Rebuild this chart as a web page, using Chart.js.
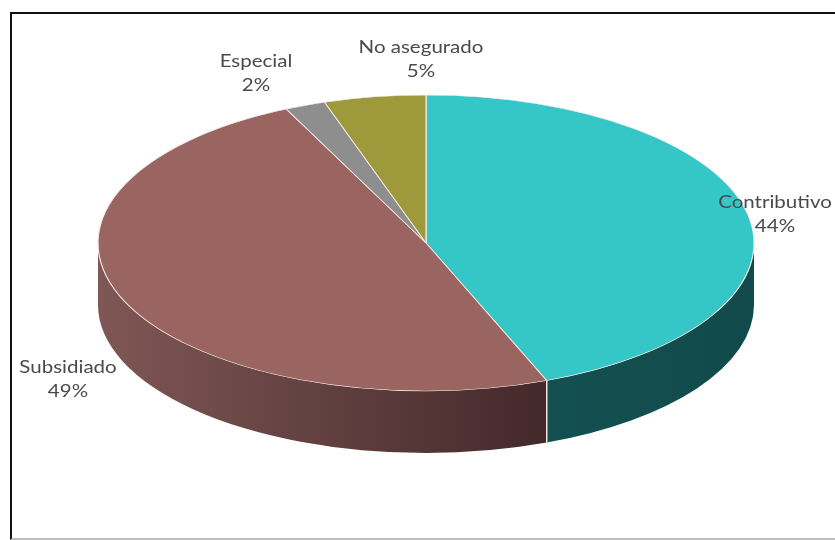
<!DOCTYPE html>
<html>
<head>
<meta charset="utf-8">
<script src="https://cdn.jsdelivr.net/npm/chart.js@4.4.1/dist/chart.umd.min.js"></script>
<style>
  html, body { margin: 0; padding: 0; background: #fff; }
  #wrap { position: relative; width: 835px; height: 540px; overflow: hidden; }
  #frame {
    position: absolute; left: 10px; top: 12px; width: 840px; height: 528px;
    border-left: 2px solid #111; border-top: 2px solid #111; border-bottom: 2px solid #bdbdbd;
    box-sizing: border-box;
  }
  canvas { position: absolute; left: 0; top: 0; }
</style>
</head>
<body>
<div id="wrap">
  <div id="frame"></div>
  <canvas id="pie" width="835" height="540"></canvas>
</div>
<script>
const labels = ['Contributivo', 'Subsidiado', 'Especial', 'No asegurado'];
const values = [44, 49, 2, 5];
const pctLabels = ['44%', '49%', '2%', '5%'];
const topColors = ['#35c7c8', '#9a6461', '#8e8e8e', '#9e9a3c'];
const sideLeft = ['#145051', '#7f5755', '#5c5c5c', '#6a6727'];
const sideRight = ['#124a4b', '#44292a', '#3f3f3f', '#4b4a1c'];

const $ = (id) => document.getElementById(id);

// geometry of the tilted pie
const RX = 328, RY = 148, DEPTH = 62;
const squash = RY / RX;

// where each text label sits (Excel put them by hand, more or less)
const labelPos = [[775, 202], [68, 367], [256, 61], [421, 47]];

const pie3d = {
  id: 'pie3d',
  beforeDatasetsDraw(chart) {
    const ctx = chart.ctx;
    const arcs = chart.getDatasetMeta(0).data;
    const cx = arcs[0].x, cy = arcs[0].y;

    // front walls, only the part facing us (angles 0..PI)
    arcs.forEach((a, i) => {
      const lo = Math.max(a.startAngle, 0);
      const hi = Math.min(a.endAngle, Math.PI);
      if (lo >= hi) return;
      const xl = cx + RX * Math.cos(hi), xr = cx + RX * Math.cos(lo);
      const g = ctx.createLinearGradient(xl, 0, xr, 0);
      g.addColorStop(0, sideLeft[i]);
      g.addColorStop(1, sideRight[i]);
      ctx.save();
      ctx.beginPath();
      ctx.ellipse(cx, cy, RX, RY, 0, lo, hi, false);
      ctx.ellipse(cx, cy + DEPTH, RX, RY, 0, hi, lo, true);
      ctx.closePath();
      ctx.fillStyle = g;
      ctx.fill();
      ctx.restore();
    });

    // vertical seams between slices on the wall
    ctx.save();
    ctx.strokeStyle = '#f3e4dc';
    ctx.lineWidth = 1.5;
    arcs.forEach((a) => {
      const ang = a.endAngle;
      const s = Math.sin(ang);
      if (s <= 0 || ang >= Math.PI) return;
      const x = cx + RX * Math.cos(ang), y = cy + RY * s;
      ctx.beginPath();
      ctx.moveTo(x, y);
      ctx.lineTo(x, y + DEPTH);
      ctx.stroke();
    });
    ctx.restore();

    // squash the top face
    ctx.save();
    ctx.translate(cx, cy);
    ctx.scale(1, squash);
    ctx.translate(-cx, -cy);
  },
  afterDatasetsDraw(chart) {
    chart.ctx.restore();
  },
  afterDraw(chart) {
    const ctx = chart.ctx;
    labels.forEach((l, i) => {
      const [x, y] = labelPos[i];
      ctx.save();
      ctx.translate(x, y);
      ctx.scale(1.14, 1); // calibri-ish proportions in the original
      ctx.font = '18px Lato';
      ctx.fillStyle = '#4a4a4a';
      ctx.textAlign = 'center';
      ctx.textBaseline = 'middle';
      ctx.fillText(l, 0, 0);
      ctx.fillText(pctLabels[i], 0, 24);
      ctx.restore();
    });
  }
};

new Chart($('pie').getContext('2d'), {
  type: 'pie',
  data: {
    labels,
    datasets: [{
      data: values,
      backgroundColor: topColors,
      borderColor: '#f5e9e3',
      borderWidth: 1.2,
      radius: RX,
      clip: false
    }]
  },
  options: {
    responsive: false,
    animation: false,
    events: [],
    layout: { padding: { left: 17, right: 0, top: 0, bottom: 54 } },
    plugins: {
      legend: { display: false },
      tooltip: { enabled: false }
    }
  },
  plugins: [pie3d]
});
</script>
</body>
</html>
